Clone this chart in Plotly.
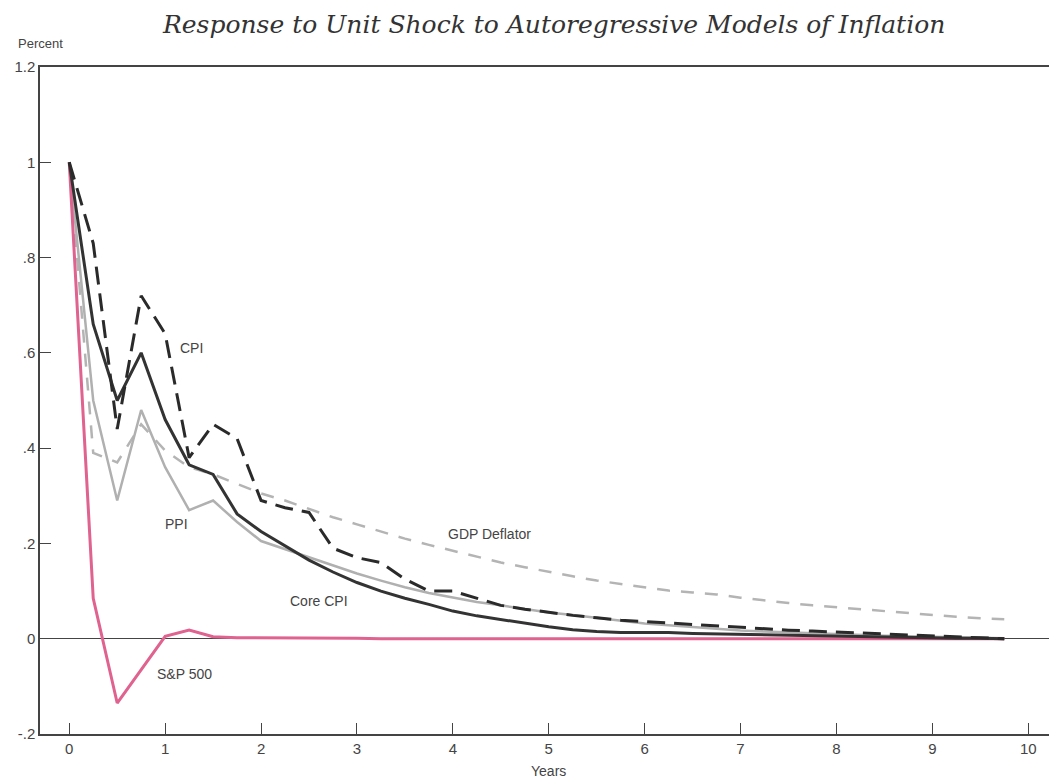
import plotly.graph_objects as go

# --- data (quarterly, years after shock) ---
years = [0.0, 0.25, 0.5, 0.75, 1.0, 1.25, 1.5, 1.75, 2.0, 2.25,
         2.5, 2.75, 3.0, 3.25, 3.5, 3.75, 4.0, 4.25, 4.5, 4.75,
         5.0, 5.25, 5.5, 5.75, 6.0, 6.25, 6.5, 6.75, 7.0, 7.25,
         7.5, 7.75, 8.0, 8.25, 8.5, 8.75, 9.0, 9.25, 9.5, 9.75]

cpi = [1.00, 0.83, 0.44, 0.72, 0.64, 0.38, 0.45, 0.42, 0.29, 0.275,
       0.265, 0.19, 0.17, 0.16, 0.125, 0.10, 0.10, 0.085, 0.07, 0.062,
       0.055, 0.049, 0.044, 0.039, 0.036, 0.033, 0.030, 0.026, 0.023, 0.020,
       0.018, 0.016, 0.014, 0.012, 0.010, 0.008, 0.006, 0.004, 0.002, 0.0]

core_cpi = [1.00, 0.66, 0.50, 0.60, 0.46, 0.365, 0.345, 0.262, 0.225, 0.195,
            0.165, 0.14, 0.118, 0.10, 0.085, 0.072, 0.058, 0.048, 0.04, 0.032,
            0.025, 0.019, 0.015, 0.013, 0.013, 0.013, 0.011, 0.010, 0.009, 0.008,
            0.007, 0.006, 0.005, 0.004, 0.003, 0.003, 0.002, 0.001, 0.001, 0.0]

ppi = [1.00, 0.50, 0.29, 0.48, 0.36, 0.27, 0.29, 0.245, 0.205, 0.188,
       0.172, 0.155, 0.137, 0.122, 0.108, 0.096, 0.086, 0.077, 0.07, 0.063,
       0.055, 0.05, 0.044, 0.038, 0.032, 0.028, 0.024, 0.02, 0.017, 0.015,
       0.013, 0.011, 0.009, 0.008, 0.006, 0.005, 0.004, 0.003, 0.002, 0.001]

gdp_deflator = [1.00, 0.39, 0.37, 0.45, 0.395, 0.36, 0.345, 0.325, 0.305, 0.29,
                0.272, 0.255, 0.24, 0.225, 0.21, 0.197, 0.185, 0.172, 0.16, 0.15,
                0.14, 0.131, 0.122, 0.115, 0.108, 0.101, 0.097, 0.093, 0.086, 0.080,
                0.075, 0.070, 0.066, 0.061, 0.057, 0.053, 0.049, 0.046, 0.043, 0.041]

sp500 = [1.00, 0.085, -0.135, -0.065, 0.005, 0.018, 0.004, 0.002, 0.002, 0.001,
         0.001, 0.001, 0.001, 0.0, 0.0, 0.0, 0.0, 0.0, 0.0, 0.0,
         0.0, 0.0, 0.0, 0.0, 0.0, 0.0, 0.0, 0.0, 0.0, 0.0,
         0.0, 0.0, 0.0, 0.0, 0.0, 0.0, 0.0, 0.0, 0.0, 0.0]

y_ticks = [-0.2, 0, 0.2, 0.4, 0.6, 0.8, 1.0, 1.2]
y_tick_text = ['-.2', '0', '.2', '.4', '.6', '.8', '1', '1.2']
x_ticks = [0, 1, 2, 3, 4, 5, 6, 7, 8, 9, 10]

# series labels: (text, x, y)
labels = [('CPI', 1.27, 0.61), ('PPI', 1.12, 0.24), ('GDP Deflator', 4.38, 0.22),
          ('Core CPI', 2.6, 0.08), ('S&P 500', 1.2, -0.075)]

fig = go.Figure()

# grey lines first so the dark ones sit on top
fig.add_trace(go.Scatter(x=years, y=gdp_deflator, mode='lines', name='GDP Deflator',
                         line=dict(color='#b4b4b4', width=2.5, dash='13px,11px')))
fig.add_trace(go.Scatter(x=years, y=ppi, mode='lines', name='PPI',
                         line=dict(color='#b0b0b0', width=2.5)))
fig.add_trace(go.Scatter(x=years, y=sp500, mode='lines', name='S&P 500',
                         line=dict(color='#e0628f', width=3)))
fig.add_trace(go.Scatter(x=years, y=core_cpi, mode='lines', name='Core CPI',
                         line=dict(color='#333333', width=3)))
fig.add_trace(go.Scatter(x=years, y=cpi, mode='lines', name='CPI',
                         line=dict(color='#2a2a2a', width=3, dash='18px,9px')))

sans = 'Liberation Sans, Arial'
for text, lx, ly in labels:
    fig.add_annotation(x=lx, y=ly, xref='x', yref='y', text=text, showarrow=False,
                       font=dict(family=sans, size=14, color='#444'))

fig.add_annotation(x=0, y=1.0, xref='paper', yref='paper', text='Percent', showarrow=False,
                   xanchor='center', yanchor='bottom', yshift=14,
                   font=dict(family=sans, size=13, color='#444'))
fig.add_annotation(x=5, y=0, xref='x', yref='paper', text='Years', showarrow=False,
                   xanchor='center', yanchor='top', yshift=-27,
                   font=dict(family=sans, size=14, color='#444'))

# title sits just above the frame
fig.add_annotation(x=0.505, y=1.0, xref='paper', yref='paper', showarrow=False,
                   text='<i>Response to Unit Shock to Autoregressive Models of Inflation</i>',
                   xanchor='center', yanchor='middle', yshift=43,
                   font=dict(family='DejaVu Serif, serif', size=25, color='#333'))

# page body adds an 8px offset, so the figure is a little smaller than the window
fig.update_layout(
    width=1049, height=772,
    margin=dict(l=32, r=0, t=59, b=46),
    plot_bgcolor='white', paper_bgcolor='white',
    showlegend=False,
)

fig.update_xaxes(range=[-0.305, 10.3], tickvals=x_ticks, ticks='inside', ticklen=11,
                 tickcolor='#444', tickwidth=1.3, showline=True, linecolor='#444', linewidth=1.5,
                 mirror=True, showgrid=False, zeroline=False,
                 tickfont=dict(family=sans, size=15, color='#444'))
fig.update_yaxes(range=[-0.2, 1.2], tickvals=y_ticks, ticktext=y_tick_text, ticks='inside',
                 ticklen=11, tickcolor='#444', tickwidth=1.3, showline=True, linecolor='#444',
                 linewidth=1.5, showgrid=False, zeroline=True, zerolinecolor='#444', zerolinewidth=1.3,
                 tickfont=dict(family=sans, size=15, color='#444'))

fig.write_html("out.html")
